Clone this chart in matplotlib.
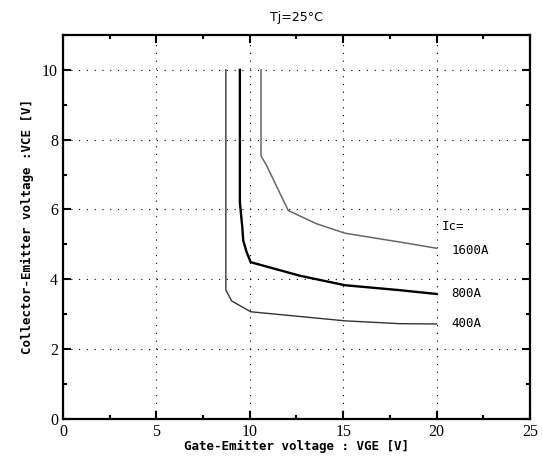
import matplotlib
matplotlib.use("Agg")
import matplotlib.pyplot as plt
from matplotlib.ticker import MultipleLocator

# curves: VGE [V] -> VCE [V]
vge_400 = [8.72, 8.72, 9.03, 10.05, 15.1, 18.0, 20.0]
vce_400 = [10.0, 3.69, 3.38, 3.07, 2.81, 2.73, 2.72]

vge_800 = [9.47, 9.47, 9.6, 9.65, 9.83, 10.05, 12.7, 15.1, 18.0, 20.0]
vce_800 = [10.0, 6.2, 5.49, 5.11, 4.78, 4.49, 4.1, 3.83, 3.69, 3.58]

vge_1600 = [10.6, 10.6, 10.9, 12.06, 13.58, 15.1, 18.0, 20.0]
vce_1600 = [10.0, 7.54, 7.26, 5.97, 5.59, 5.32, 5.07, 4.89]

labels = ["1600A", "800A", "400A"]
label_y = [4.83, 3.6, 2.74]

fig = plt.figure(figsize=(5.43, 4.66), dpi=100)
ax = fig.add_axes([0.116, 0.101, 0.86, 0.824])

ax.plot(vge_400, vce_400, color="#333333", lw=1.0)
ax.plot(vge_800, vce_800, color="black", lw=1.7)
ax.plot(vge_1600, vce_1600, color="#666666", lw=1.1)

ax.set_xlim(0, 25)
ax.set_ylim(0, 11)
ax.xaxis.set_major_locator(MultipleLocator(5))
ax.xaxis.set_minor_locator(MultipleLocator(2.5))
ax.yaxis.set_major_locator(MultipleLocator(2))
ax.yaxis.set_minor_locator(MultipleLocator(1))
ax.tick_params(which="both", direction="in", top=True, right=True, width=1.5)
ax.tick_params(which="major", length=6)
ax.tick_params(which="minor", length=3)
for lab in ax.get_xticklabels() + ax.get_yticklabels():
    lab.set_fontfamily("Liberation Serif")
    lab.set_fontsize(11.5)
for s in ax.spines.values():
    s.set_linewidth(1.6)

ax.grid(True, which="major", color="black", lw=0.8, linestyle=(0, (1, 6)))

mono = "DejaVu Sans Mono"
ax.set_xlabel("Gate-Emitter voltage : VGE [V]", fontfamily=mono, fontsize=9,
              fontweight="bold", labelpad=0)
ax.set_ylabel("Collector-Emitter voltage :VCE [V]", fontfamily=mono, fontsize=9,
              fontweight="bold", labelpad=6)
ax.set_title("Tj=25°C", fontfamily="DejaVu Sans", fontsize=9, pad=10)

ax.text(20.3, 5.5, "Ic=", fontfamily=mono, fontsize=9, va="center")
for t, y in zip(labels, label_y):
    ax.text(20.8, y, t, fontfamily=mono, fontsize=9, va="center")

fig.savefig("out.png", dpi=100)
